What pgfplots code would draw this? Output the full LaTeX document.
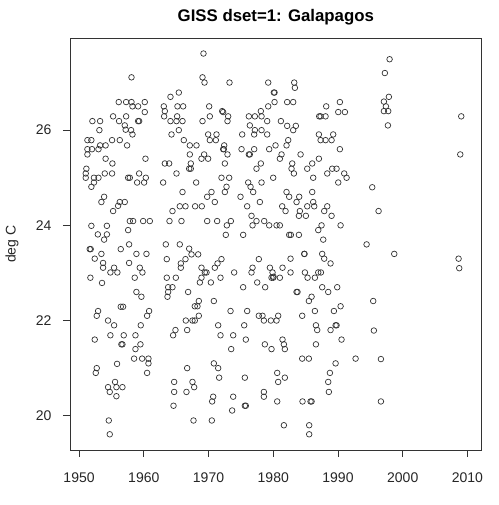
\documentclass[border=0pt]{standalone}
\usepackage{pgfplots}
\pgfplotsset{compat=1.18}
\usepackage{pgfplotstable}
\usepackage{fontspec}
\setmainfont{Liberation Sans}
\pgfplotstableread{
x y
1958.10 27.11
1956.13 26.59
1957.27 26.59
1958.10 26.59
1960.15 26.59
1958.25 26.50
1959.12 26.50
1960.15 26.38
1955.26 26.29
1957.27 26.29
1952.06 26.19
1953.25 26.19
1956.18 26.19
1959.12 26.19
1959.28 26.19
1957.06 26.10
1953.14 26.00
1957.20 26.01
1958.04 26.00
1958.25 25.91
1951.29 25.79
1951.90 25.79
1955.10 25.79
1956.29 25.79
1953.25 25.68
1954.10 25.68
1957.42 25.68
1951.29 25.60
1952.00 25.60
1953.00 25.60
1951.29 25.49
1954.10 25.40
1960.26 25.40
1955.15 25.30
1951.13 25.19
1951.03 25.09
1953.97 25.09
1955.10 25.09
1959.28 25.09
1951.03 25.00
1952.30 25.00
1953.00 25.00
1957.58 25.00
1957.84 25.00
1960.31 25.00
1952.30 24.90
1958.97 24.90
1960.05 24.90
1951.90 24.81
1953.87 24.60
1953.45 24.49
1956.29 24.49
1957.06 24.49
1956.03 24.41
1955.26 24.30
1957.84 24.09
1958.35 24.09
1959.90 24.09
1960.93 24.09
1951.90 23.99
1954.30 23.99
1957.58 23.90
1952.90 23.81
1954.30 23.81
1953.87 23.70
1957.73 23.60
1951.65 23.50
1951.80 23.50
1956.44 23.50
1953.45 23.40
1958.86 23.40
1960.41 23.40
1952.42 23.30
1953.71 23.21
1957.73 23.21
1953.71 23.11
1955.41 23.11
1959.38 23.11
1954.84 23.01
1955.92 23.01
1959.79 23.01
1951.75 22.90
1958.60 22.90
1953.55 22.79
1958.86 22.60
1959.63 22.50
1956.44 22.29
1956.80 22.29
1952.94 22.20
1960.82 22.20
1952.73 22.10
1960.51 22.10
1954.48 22.00
1955.41 21.90
1959.53 21.90
1954.84 21.69
1956.90 21.69
1958.71 21.69
1952.42 21.60
1956.54 21.50
1956.70 21.50
1959.48 21.50
1958.71 21.40
1958.50 21.20
1959.74 21.20
1960.72 21.20
1960.72 21.10
1955.87 21.09
1952.73 21.00
1952.58 20.90
1960.51 20.90
1955.56 20.71
1954.48 20.60
1955.77 20.60
1956.70 20.60
1954.74 20.50
1955.77 20.41
1954.59 19.90
1954.74 19.61
1969.22 27.61
1969.07 27.11
1969.38 27.00
1973.24 27.00
1965.41 26.79
1964.12 26.70
1963.09 26.50
1965.20 26.50
1966.08 26.50
1970.10 26.50
1963.25 26.40
1972.11 26.40
1972.26 26.38
1978.08 26.40
1963.14 26.29
1965.15 26.29
1970.20 26.29
1973.03 26.29
1976.23 26.29
1977.16 26.29
1978.19 26.29
1964.12 26.19
1965.05 26.19
1965.98 26.19
1969.07 26.19
1972.93 26.19
1976.38 26.10
1965.41 26.00
1977.16 26.00
1978.19 26.00
1964.28 25.91
1969.94 25.91
1971.23 25.91
1975.20 25.91
1977.05 25.91
1966.18 25.79
1970.20 25.79
1971.13 25.79
1967.11 25.68
1968.14 25.68
1972.42 25.68
1972.26 25.60
1972.36 25.60
1975.10 25.60
1977.05 25.60
1967.11 25.49
1969.32 25.49
1972.93 25.49
1976.23 25.49
1976.38 25.49
1968.91 25.40
1969.94 25.40
1963.25 25.30
1963.92 25.30
1967.26 25.30
1972.52 25.30
1978.08 25.30
1967.01 25.19
1967.26 25.19
1977.41 25.19
1965.05 25.09
1972.00 25.00
1973.19 25.00
1962.99 24.90
1968.09 24.90
1976.13 24.90
1978.19 24.90
1972.78 24.81
1976.49 24.81
1965.98 24.70
1970.46 24.70
1972.52 24.70
1976.90 24.70
1969.79 24.60
1974.94 24.60
1970.97 24.49
1977.93 24.49
1965.56 24.40
1966.44 24.40
1967.93 24.40
1968.96 24.40
1975.97 24.40
1964.43 24.30
1976.64 24.20
1963.97 24.09
1965.82 24.09
1969.79 24.09
1971.33 24.09
1973.45 24.09
1977.41 24.09
1978.60 24.09
1972.83 24.00
1976.80 24.00
1972.67 23.80
1975.35 23.80
1963.40 23.60
1965.56 23.60
1967.01 23.51
1963.55 23.29
1966.44 23.29
1972.00 23.29
1977.77 23.29
1967.37 23.39
1968.40 23.39
1965.72 23.20
1971.39 23.20
1965.72 23.11
1968.91 23.11
1970.97 23.11
1976.80 23.11
1969.43 23.01
1969.69 23.01
1973.96 23.01
1976.64 23.01
1963.55 22.90
1964.95 22.90
1968.91 22.90
1971.85 22.90
1968.66 22.80
1970.36 22.80
1977.52 22.80
1963.76 22.70
1964.43 22.70
1975.35 22.70
1963.76 22.60
1966.85 22.60
1963.66 22.50
1968.50 22.41
1970.82 22.41
1967.88 22.30
1968.29 22.30
1968.50 22.10
1973.40 22.20
1975.97 22.20
1977.77 22.10
1966.49 22.00
1967.52 22.00
1967.88 22.00
1971.49 21.90
1975.51 21.90
1964.89 21.80
1966.70 21.80
1964.53 21.69
1971.85 21.69
1973.81 21.69
1975.76 21.60
1973.50 21.40
1970.82 21.10
1966.70 21.00
1971.49 21.00
1971.64 20.80
1975.61 20.80
1964.69 20.71
1967.52 20.71
1967.78 20.60
1964.69 20.50
1966.59 20.50
1970.72 20.40
1973.81 20.40
1970.56 20.30
1964.59 20.21
1975.61 20.21
1975.76 20.21
1973.65 20.11
1967.68 19.90
1970.51 19.90
1979.22 27.00
1983.24 27.00
1983.34 26.89
1980.09 26.79
1980.20 26.79
1980.20 26.59
1982.15 26.59
1983.08 26.59
1990.29 26.59
1979.22 26.50
1988.18 26.50
1990.04 26.38
1991.07 26.38
1987.10 26.29
1987.31 26.29
1988.08 26.29
1979.06 26.19
1981.18 26.19
1982.15 26.09
1983.49 26.09
1983.08 26.00
1979.06 25.91
1987.05 25.91
1989.26 25.91
1982.31 25.79
1987.31 25.79
1988.08 25.79
1989.01 25.79
1980.35 25.68
1982.05 25.68
1979.37 25.60
1990.29 25.60
1981.28 25.49
1984.22 25.49
1981.02 25.40
1987.05 25.40
1982.93 25.30
1986.02 25.30
1982.82 25.19
1985.25 25.19
1989.11 25.19
1989.78 25.19
1983.19 25.09
1988.34 25.09
1990.96 25.09
1979.99 25.00
1986.17 25.00
1991.33 25.00
1990.04 24.90
1982.05 24.70
1986.02 24.70
1982.46 24.60
1984.01 24.60
1983.60 24.49
1986.17 24.49
1981.38 24.40
1985.25 24.40
1986.33 24.40
1988.34 24.40
1981.90 24.30
1984.11 24.30
1987.87 24.30
1983.96 24.20
1985.04 24.20
1989.01 24.20
1979.37 24.00
1980.51 24.00
1981.02 24.00
1987.46 24.00
1990.40 24.00
1986.95 23.90
1982.46 23.80
1982.72 23.80
1983.96 23.80
1987.72 23.70
1994.42 23.60
1982.67 23.30
1984.78 23.40
1984.83 23.40
1987.56 23.40
1987.87 23.30
1988.85 23.20
1979.48 23.11
1981.43 23.11
1979.89 23.01
1982.67 23.01
1984.89 23.01
1986.95 23.01
1987.36 23.01
1979.73 22.90
1979.99 22.90
1980.04 22.92
1981.02 22.90
1985.30 22.90
1986.43 22.90
1978.75 22.70
1987.56 22.70
1989.88 22.70
1983.60 22.60
1983.75 22.60
1988.49 22.60
1985.92 22.50
1985.50 22.41
1986.43 22.20
1989.37 22.20
1990.40 22.30
1978.34 22.10
1980.76 22.10
1984.47 22.10
1978.55 22.00
1979.63 22.00
1980.51 22.00
1986.59 21.90
1989.63 21.90
1989.78 21.90
1986.79 21.80
1988.85 21.80
1981.43 21.60
1990.55 21.60
1978.70 21.50
1981.64 21.50
1986.59 21.50
1979.73 21.40
1981.79 21.40
1984.47 21.20
1985.50 21.20
1992.72 21.20
1989.63 21.10
1980.61 20.90
1988.75 20.90
1981.79 20.80
1980.76 20.71
1988.49 20.71
1978.55 20.50
1988.59 20.50
1978.55 20.40
1980.61 20.30
1984.52 20.30
1985.76 20.30
1985.92 20.30
1981.64 19.80
1985.55 19.80
1985.55 19.61
1997.97 27.49
1997.24 27.20
1997.86 26.70
1997.09 26.60
1997.40 26.50
1997.09 26.40
1997.76 26.40
1997.71 26.10
2009.04 26.29
2008.89 25.49
1995.29 24.80
1996.27 24.30
1998.69 23.40
2008.63 23.30
2008.73 23.10
1995.44 22.41
1995.54 21.79
1996.63 21.19
1996.63 20.30
}\galapagos
\begin{document}
\begin{tikzpicture}
\begin{axis}[
  scale only axis,
  width=411.7bp, height=411.7bp,
  xmin=1948.6, xmax=2012.2,
  ymin=19.28, ymax=27.93,
  xtick={1950,1960,1970,1980,1990,2000,2010},
  ytick={20,22,24,26},
  tick pos=left,
  tick align=outside,
  major tick length=7bp,
  axis line style={line width=0.8bp, black!80},
  every tick/.style={line width=0.8bp, black!80},
  tick label style={font=\fontsize{14bp}{16bp}\selectfont, text=black!85},
  xticklabel style={/pgf/number format/1000 sep=, yshift=-12bp},
  yticklabel style={anchor=east, xshift=-8bp},
  /pgf/number format/assume math mode=true,
  title={\bfseries GISS dset=1: Galapagos},
  title style={font=\fontsize{16.8bp}{19bp}\selectfont\bfseries, at={(0.5,1)}, anchor=base, yshift=10.6bp},
  ylabel={deg C},
  every axis y label/.style={at={(rel axis cs:0,0.5)}, xshift=-58bp, rotate=90, anchor=center, font=\fontsize{14bp}{16bp}\selectfont, text=black!85},
]
\addplot[only marks, mark=o, mark size=2.8bp, mark options={draw=black!80, line width=0.7bp}] table[x=x, y=y] {\galapagos};
\end{axis}
\path ([xshift=-70bp,yshift=-55bp]current axis.south west) rectangle ([xshift=17.3bp,yshift=38.3bp]current axis.north east);
\end{tikzpicture}
\end{document}
